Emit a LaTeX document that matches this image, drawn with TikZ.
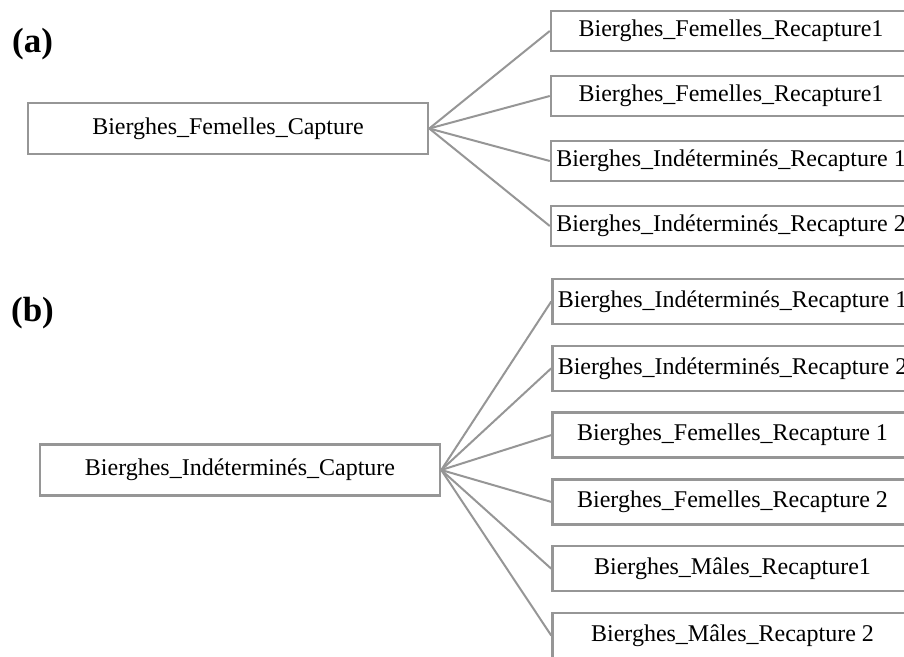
\documentclass[tikz,border=0pt]{standalone}
\usepackage{fontspec}
\setmainfont{Liberation Serif}
\definecolor{boxgray}{RGB}{150,150,150}

\begin{document}
\begin{tikzpicture}[x=1pt,y=-1pt,
		capbox/.style={draw=boxgray,line width=2.5pt,minimum width=400pt,minimum height=51pt,inner sep=2pt,font=\fontsize{24}{28}\selectfont},
		recbox/.style={draw=boxgray,line width=2.5pt,minimum width=360pt,inner sep=2pt,font=\fontsize{24}{28}\selectfont},
		link/.style={draw=boxgray,line width=2pt},
		panel/.style={font=\fontsize{35}{40}\selectfont\bfseries}]
		\clip (0,0) rectangle (904,656);
		% (a) femelles
		\node[panel] (lblA) at (32.5,44) {(a)};
		\node[capbox] (capA) at (228,128.5) {Bierghes\_Femelles\_Capture};
		\foreach \t [count=\i] in {Bierghes\_Femelles\_Recapture1,Bierghes\_Femelles\_Recapture1,Bierghes\_Indéterminés\_Recapture 1,Bierghes\_Indéterminés\_Recapture 2}{
			\node[recbox,minimum height=40pt] (recA\i) at (731,{31+65*(\i-1)}) {\t};
			\draw[link] (capA.east) -- (recA\i.west);
		}
		% (b) indetermines
		\node[panel] (lblB) at (32.5,313) {(b)};
		\node[capbox] (capB) at (240,470) {Bierghes\_Indéterminés\_Capture};
		\foreach \t [count=\i] in {Bierghes\_Indéterminés\_Recapture 1,Bierghes\_Indéterminés\_Recapture 2,Bierghes\_Femelles\_Recapture 1,Bierghes\_Femelles\_Recapture 2,Bierghes\_Mâles\_Recapture1,Bierghes\_Mâles\_Recapture 2}{
			\node[recbox,minimum height=45pt] (recB\i) at (732.5,{301.5+66.8*(\i-1)}) {\t};
			\draw[link] (capB.east) -- (recB\i.west);
		}
\end{tikzpicture}
\end{document}
